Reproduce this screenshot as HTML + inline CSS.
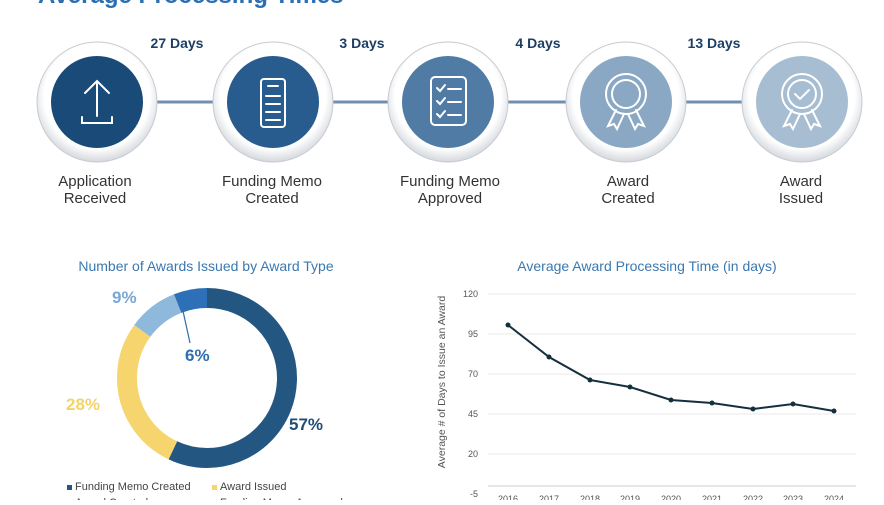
<!DOCTYPE html>
<html><head><meta charset="utf-8"><style>
body{margin:0;background:#fff;width:884px;height:500px;overflow:hidden;font-family:"Liberation Sans",sans-serif}
</style></head><body>
<svg width="884" height="500" xmlns="http://www.w3.org/2000/svg" font-family="Liberation Sans, sans-serif">
<defs>
<radialGradient id="rg" cx="50%" cy="45%" r="55%">
<stop offset="80%" stop-color="#ffffff"/><stop offset="100%" stop-color="#d4d8dd"/></radialGradient>
</defs>
<text x="38" y="3" font-size="24" font-weight="bold" fill="#2a6fb5">Average Processing Times</text>
<line x1="97" y1="102" x2="802" y2="102" stroke="#6f90b0" stroke-width="3"/>
<g font-size="14" font-weight="bold" fill="#1d3f66" text-anchor="middle">
<text x="177" y="48">27 Days</text><text x="362" y="48">3 Days</text>
<text x="538" y="48">4 Days</text><text x="714" y="48">13 Days</text>
</g>
<g>
<circle cx="97" cy="102" r="60" fill="url(#rg)" stroke="#c6cbd1"/><circle cx="97" cy="102" r="46" fill="#1a4a78"/>
<circle cx="273" cy="102" r="60" fill="url(#rg)" stroke="#c6cbd1"/><circle cx="273" cy="102" r="46" fill="#285c8e"/>
<circle cx="448" cy="102" r="60" fill="url(#rg)" stroke="#c6cbd1"/><circle cx="448" cy="102" r="46" fill="#4f7ba4"/>
<circle cx="626" cy="102" r="60" fill="url(#rg)" stroke="#c6cbd1"/><circle cx="626" cy="102" r="46" fill="#8aa8c4"/>
<circle cx="802" cy="102" r="60" fill="url(#rg)" stroke="#c6cbd1"/><circle cx="802" cy="102" r="46" fill="#a7bdd2"/>
</g>
<g stroke="#fff" stroke-width="2" fill="none" stroke-linecap="round">
<path d="M97 81 V116 M85 93 L97 81 L109 93 M82 117 V123 H112 V117"/>
<rect x="261" y="79" width="24" height="48" rx="3"/><path d="M268 86H278M266 96H280M266 104H280M266 112H280M266 120H280"/>
<rect x="431" y="77" width="35" height="48" rx="4"/><path d="M437 88l3 3 5-6M448 89H461M437 101l3 3 5-6M448 102H461M437 114l3 3 5-6M448 115H461"/>
<circle cx="626" cy="94" r="20"/><circle cx="626" cy="94" r="14"/><path d="M616 110 L608 126 L614 124 L617 129 L624 114 M636 110 L644 126 L638 124 L635 129 L628 114"/>
<circle cx="802" cy="94" r="20"/><circle cx="802" cy="94" r="14"/><path d="M795 94l5 5 9-9M792 110 L784 126 L790 124 L793 129 L800 114 M812 110 L820 126 L814 124 L811 129 L804 114"/>
</g>
<g font-size="15" fill="#333" text-anchor="middle">
<text x="95" y="186">Application</text><text x="95" y="203">Received</text>
<text x="272" y="186">Funding Memo</text><text x="272" y="203">Created</text>
<text x="450" y="186">Funding Memo</text><text x="450" y="203">Approved</text>
<text x="628" y="186">Award</text><text x="628" y="203">Created</text>
<text x="801" y="186">Award</text><text x="801" y="203">Issued</text>
</g>
<text x="206" y="271" font-size="14" fill="#3a78b0" text-anchor="middle">Number of Awards Issued by Award Type</text>
<g transform="rotate(-90 207 378)" fill="none" stroke-width="20">
<circle cx="207" cy="378" r="80" stroke="#245682" stroke-dasharray="286.5 502.65"/>
<circle cx="207" cy="378" r="80" stroke="#f6d56e" stroke-dasharray="140.7 502.65" stroke-dashoffset="-286.5"/>
<circle cx="207" cy="378" r="80" stroke="#8fb8dd" stroke-dasharray="45.2 502.65" stroke-dashoffset="-427.2"/>
<circle cx="207" cy="378" r="80" stroke="#2e70b8" stroke-dasharray="30.2 502.65" stroke-dashoffset="-472.4"/>
</g>
<line x1="190" y1="343" x2="183" y2="311" stroke="#2e6fae" stroke-width="1.2"/>
<g font-size="17" font-weight="bold">
<text x="112" y="303" fill="#7aa7d4">9%</text>
<text x="185" y="361" fill="#2e6fae">6%</text>
<text x="66" y="410" fill="#f3d46a">28%</text>
<text x="289" y="430" fill="#1f4e79">57%</text>
</g>
<g font-size="11" fill="#444">
<rect x="67" y="485" width="5" height="5" fill="#245682"/><text x="75" y="490">Funding Memo Created</text>
<rect x="212" y="485" width="5" height="5" fill="#f6d56e"/><text x="220" y="490">Award Issued</text>
<rect x="67" y="501" width="5" height="5" fill="#8fb8dd"/><text x="75" y="506">Award Created</text>
<rect x="212" y="501" width="5" height="5" fill="#2e70b8"/><text x="220" y="506">Funding Memo Approved</text>
</g>
<text x="647" y="271" font-size="14" fill="#3a78b0" text-anchor="middle">Average Award Processing Time (in days)</text>
<g stroke="#e8e8e8" stroke-width="1">
<line x1="488" y1="294" x2="856" y2="294"/><line x1="488" y1="334" x2="856" y2="334"/>
<line x1="488" y1="374" x2="856" y2="374"/><line x1="488" y1="414" x2="856" y2="414"/>
<line x1="488" y1="454" x2="856" y2="454"/><line x1="488" y1="486" x2="856" y2="486" stroke="#ccc"/>
</g>
<g font-size="9" fill="#555" text-anchor="end">
<text x="478" y="297">120</text><text x="478" y="337">95</text><text x="478" y="377">70</text>
<text x="478" y="417">45</text><text x="478" y="457">20</text><text x="478" y="497">-5</text>
</g>
<text transform="translate(445 382) rotate(-90)" font-size="10.5" fill="#555" text-anchor="middle">Average # of Days to Issue an Award</text>
<g font-size="9" fill="#555" text-anchor="middle">
<text x="508" y="502">2016</text><text x="549" y="502">2017</text><text x="590" y="502">2018</text>
<text x="630" y="502">2019</text><text x="671" y="502">2020</text><text x="712" y="502">2021</text>
<text x="753" y="502">2022</text><text x="793" y="502">2023</text><text x="834" y="502">2024</text>
</g>
<polyline fill="none" stroke="#14303f" stroke-width="2" points="508,325 549,357 590,380 630,387 671,400 712,403 753,409 793,404 834,411"/>
<g fill="#14303f">
<circle cx="508" cy="325" r="2.5"/><circle cx="549" cy="357" r="2.5"/><circle cx="590" cy="380" r="2.5"/>
<circle cx="630" cy="387" r="2.5"/><circle cx="671" cy="400" r="2.5"/><circle cx="712" cy="403" r="2.5"/>
<circle cx="753" cy="409" r="2.5"/><circle cx="793" cy="404" r="2.5"/><circle cx="834" cy="411" r="2.5"/>
</g>
</svg>
</body></html>
